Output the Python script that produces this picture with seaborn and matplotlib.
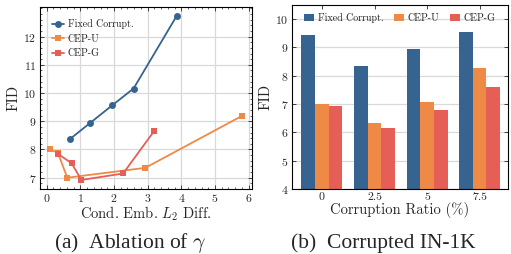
import numpy as np
import matplotlib
matplotlib.use("Agg")
import matplotlib.pyplot as plt
import pandas as pd
import seaborn as sns

# panel (a): ablation of gamma
fixed_x = [0.68, 1.30, 1.94, 2.58, 3.86]
fixed_y = [8.36, 8.95, 9.56, 10.16, 12.73]
cepu_x = [0.10, 0.33, 0.61, 2.93, 5.80]
cepu_y = [8.00, 7.89, 7.00, 7.35, 9.19]
cepg_x = [0.33, 0.74, 1.03, 2.27, 3.19]
cepg_y = [7.85, 7.51, 6.92, 7.15, 8.65]

# panel (b): corrupted IN-1K
ratios = ['0', '2.5', '5', '7.5']
fid_fixed = [9.45, 8.36, 8.96, 9.56]
fid_cepu = [6.99, 6.32, 7.09, 8.26]
fid_cepg = [6.92, 6.14, 6.78, 7.62]

methods = ['Fixed Corrupt.', 'CEP-U', 'CEP-G']
colors = ['#36638f', '#ef8a46', '#e65f57']

sns.set_theme(style='ticks')
plt.rcParams['font.family'] = ['cmr10', 'DejaVu Serif']
plt.rcParams['mathtext.fontset'] = 'cm'
plt.rcParams['axes.formatter.use_mathtext'] = True
plt.rcParams['xtick.direction'] = 'in'
plt.rcParams['ytick.direction'] = 'in'
plt.rcParams['xtick.top'] = True
plt.rcParams['ytick.right'] = True
plt.rcParams['axes.edgecolor'] = 'black'
plt.rcParams['axes.linewidth'] = 0.8

fig = plt.figure(figsize=(5.11, 2.54), dpi=100)
ax1 = fig.add_axes([40 / 511, 65 / 254, 212 / 511, 182 / 254])
ax2 = fig.add_axes([292 / 511, 65 / 254, 216 / 511, 184 / 254])

df_a = pd.concat([
    pd.DataFrame({'x': fixed_x, 'y': fixed_y, 'method': methods[0]}),
    pd.DataFrame({'x': cepu_x, 'y': cepu_y, 'method': methods[1]}),
    pd.DataFrame({'x': cepg_x, 'y': cepg_y, 'method': methods[2]}),
])
sns.lineplot(data=df_a, x='x', y='y', hue='method', style='method',
             markers=['o', 's', 's'], dashes=False, sort=False,
             palette=colors, markersize=5, markeredgewidth=0,
             linewidth=1.3, ax=ax1)
ax1.set_xlim(-0.2, 6.1)
ax1.set_ylim(6.6, 13.05)
ax1.set_xticks(range(0, 7))
ax1.set_yticks(range(7, 13))
ax1.minorticks_on()
ax1.tick_params(which='major', length=3, width=0.6, labelsize=8.5, pad=2.5)
ax1.tick_params(which='minor', length=1.5, width=0.5, top=True, right=True)
ax1.grid(True, which='major', color='#d9d9d9', linewidth=0.9)
ax1.set_xlabel('Cond. Emb. $L_2$ Diff.', fontsize=10.5, labelpad=0)
ax1.set_ylabel('FID', fontsize=10.5, labelpad=2)
leg = ax1.legend(loc='upper left', fontsize=7.2, frameon=False,
                 handlelength=1.2, handletextpad=0.4, labelspacing=0.5,
                 borderaxespad=0.8)
ax1.set_axisbelow(True)

df_b = pd.DataFrame({
    'ratio': ratios * 3,
    'fid': fid_fixed + fid_cepu + fid_cepg,
    'method': [m for m in methods for _ in ratios],
})
sns.barplot(data=df_b, x='ratio', y='fid', hue='method', palette=colors,
            width=0.78, saturation=1, linewidth=0, edgecolor='none', ax=ax2)
ax2.set_xlim(-0.57, 3.54)
ax2.set_ylim(4, 10.5)
ax2.set_yticks(range(4, 11))
ax2.tick_params(axis='y', which='major', length=3, width=0.6, labelsize=8.5, pad=2.5)
ax2.tick_params(axis='x', which='major', length=3, width=0.6, labelsize=8.5, pad=2.5,
                top=True, bottom=False)
ax2.yaxis.grid(True, color='#d9d9d9', linewidth=0.9)
ax2.set_axisbelow(True)
ax2.set_xlabel('Corruption Ratio (%)', fontsize=10.5, labelpad=0)
ax2.set_ylabel('FID', fontsize=10.5, labelpad=2)
ax2.legend(loc='upper center', ncol=3, fontsize=7.2, frameon=False,
           handlelength=1.0, handletextpad=0.4, columnspacing=1.0,
           borderaxespad=0.4)

fig.text(130 / 511, 6 / 254, '(a)  Ablation of $\\gamma$', ha='center', va='baseline',
         fontsize=15.5, family=['Liberation Serif'])
fig.text(383 / 511, 6 / 254, '(b)  Corrupted IN-1K', ha='center', va='baseline',
         fontsize=15.5, family=['Liberation Serif'])

fig.savefig('out.png', dpi=100)
